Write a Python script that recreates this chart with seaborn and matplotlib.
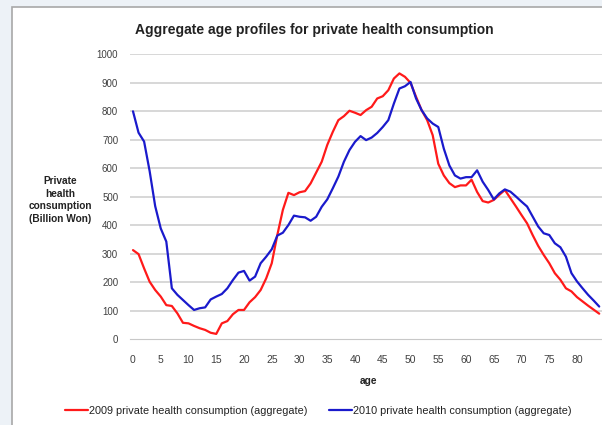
import matplotlib
matplotlib.use("Agg")
import matplotlib.pyplot as plt
from matplotlib.patches import Rectangle
import seaborn as sns
import pandas as pd

ages = list(range(85))
consumption_2009 = [
    313, 299, 249, 202, 173, 150, 120, 117, 91, 58, 56, 47, 39, 33, 23, 19,
    56, 64, 88, 103, 103, 130, 148, 173, 214, 267, 366, 454, 514, 506, 516,
    520, 547, 585, 623, 682, 728, 769, 783, 802, 795, 787, 804, 816, 845, 853,
    874, 915, 933, 921, 900, 851, 804, 769, 716, 616, 575, 548, 534, 540, 540,
    560, 517, 485, 480, 489, 507, 524, 495, 466, 436, 407, 366, 328, 296, 267,
    232, 209, 179, 168, 148, 133, 118, 104, 90,
]
consumption_2010 = [
    800, 725, 694, 590, 467, 389, 343, 179, 156, 138, 120, 103, 109, 112, 140,
    150, 159, 179, 208, 234, 240, 206, 220, 267, 290, 316, 364, 374, 401, 434,
    430, 428, 416, 430, 465, 491, 530, 571, 623, 664, 693, 713, 699, 708, 724,
    745, 769, 827, 880, 888, 903, 845, 804, 775, 757, 745, 669, 610, 575, 564,
    569, 569, 593, 553, 524, 491, 512, 526, 518, 501, 483, 466, 431, 396, 372,
    366, 337, 323, 290, 232, 203, 179, 156, 136, 115,
]
series_names = [
    "2009 private health consumption (aggregate)",
    "2010 private health consumption (aggregate)",
]
y_ticks = list(range(0, 1001, 100))
x_ticks = list(range(0, 81, 5))

df = pd.DataFrame({
    "age": ages * 2,
    "value": consumption_2009 + consumption_2010,
    "series": [series_names[0]] * len(ages) + [series_names[1]] * len(ages),
})

sns.set_style("white")
plt.rcParams['font.family'] = ['Liberation Sans', 'DejaVu Sans']

fig = plt.figure(figsize=(6.02, 4.25), dpi=100)
fig.patch.set_facecolor('#edf2f7')
# chart frame (cropped on the right and bottom)
fig.patches.append(Rectangle((12 / 602, -0.1), 1.2, 0.1 + (425 - 7) / 425,
                             transform=fig.transFigure, facecolor='white',
                             edgecolor='#a8a8a8', linewidth=1.2, zorder=-10))

ax = fig.add_axes([130 / 602, 0.2016, 472 / 602, 0.6706])
ax.set_facecolor('none')

for v in y_ticks[1:]:
    ax.axhline(v, color='#d4d4d4', linewidth=1.3, zorder=1)

sns.lineplot(data=df, x="age", y="value", hue="series",
             palette=['#ff1a1a', '#1a1acc'], linewidth=1.6, ax=ax,
             legend=False, zorder=3)

ax.set_xlim(-0.54, 84.5)
ax.set_ylim(0, 1000)
ax.set_xticks(x_ticks)
ax.set_yticks(y_ticks)
ax.set_xticks(ages, minor=True)
ax.tick_params(axis='y', length=0, pad=8.5, labelsize=7, labelcolor='#404040')
ax.tick_params(axis='x', which='major', length=0, pad=11, labelsize=7.5,
               labelcolor='#404040')
ax.tick_params(axis='x', which='minor', length=2, width=0.6, color='#b0b0b0',
               direction='inout')
for side in ['top', 'right', 'left']:
    ax.spines[side].set_visible(False)
ax.spines['bottom'].set_color('#c8c8c8')
ax.spines['bottom'].set_linewidth(0.8)
ax.set_xlabel("")
ax.set_ylabel("")

fig.text(314 / 602, 1 - 30 / 425,
         'Aggregate age profiles for private health consumption',
         ha='center', va='center', fontsize=10, fontweight='bold', color='#222222')
fig.text(60 / 602, 1 - 200 / 425,
         'Private\nhealth\nconsumption\n(Billion Won)',
         ha='center', va='center', fontsize=7.3, fontweight='bold',
         color='#222222', linespacing=1.3)
fig.text(369 / 602, 1 - 381 / 425, 'age', ha='center', va='center',
         fontsize=7.3, fontweight='bold', color='#222222')

# legend
handles = [plt.Line2D([], [], color='#ff1a1a', linewidth=1.6),
           plt.Line2D([], [], color='#1a1acc', linewidth=1.6)]
fig.legend(handles, series_names, loc='center', ncol=2,
           bbox_to_anchor=(318 / 602, 1 - 411 / 425), frameon=False,
           fontsize=7.8, handlelength=2.1, handletextpad=0.1,
           columnspacing=2.0, labelcolor='#222222')

plt.savefig('out.png', dpi=100, facecolor=fig.get_facecolor())
plt.close()
